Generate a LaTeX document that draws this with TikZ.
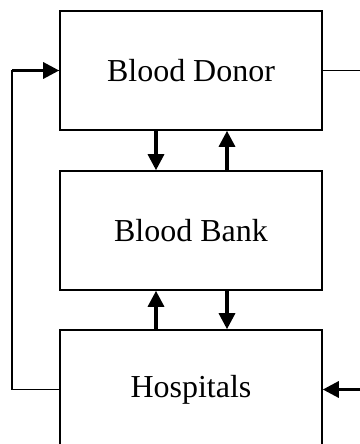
\documentclass[tikz,border=0pt]{standalone}
\usepackage{fontspec}
\setmainfont{Liberation Serif}
\usetikzlibrary{arrows.meta}

\begin{document}
\begin{tikzpicture}
    \tikzset{
        unitbox/.style={draw, line width=0.9pt, minimum width=5.24cm, minimum height=2.38cm, font=\fontsize{18.2}{22}\selectfont},
        flow/.style={line width=1.8pt, -{Triangle[length=0.32cm, width=0.32cm]}},
        loopline/.style={line width=1pt}
    }
    \useasboundingbox (0, 0) rectangle (7.2, -8.88);
    % Boxes for donor, bank and hospitals
        \node[unitbox] (donor) at (3.82, -1.41) {Blood Donor};
        \node[unitbox] (bank) at (3.82, -4.61) {Blood Bank};
        \node[unitbox] (hosp) at (3.82, -7.79) {Hospitals};
        % Free ends at the right edge
        \coordinate (rtop) at (7.2, -1.41);
        \coordinate (rbot) at (7.2, -7.79);
        % Arrows between the boxes
        \draw[flow] ([xshift=-0.7cm]donor.south) -- ([xshift=-0.7cm]bank.north);
        \draw[flow] ([xshift=0.72cm]bank.north) -- ([xshift=0.72cm]donor.south);
        \draw[flow] ([xshift=-0.7cm]hosp.north) -- ([xshift=-0.7cm]bank.south);
        \draw[flow] ([xshift=0.72cm]bank.south) -- ([xshift=0.72cm]hosp.north);
        % Loop back on the left, lines on the right
        \draw[loopline] (hosp.west) -- ++(-0.94, 0) |- (donor.west);
        \draw[flow] ([xshift=-0.94cm]donor.west) -- (donor.west);
        \draw[loopline] (donor.east) -- (rtop);
        \draw[flow] (rbot) -- (hosp.east);
\end{tikzpicture}
\end{document}
